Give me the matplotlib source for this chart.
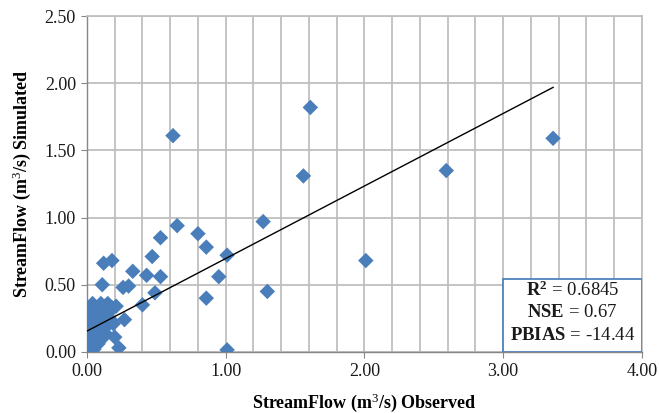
import numpy as np
import matplotlib
matplotlib.use("Agg")
import matplotlib.pyplot as plt
from matplotlib.ticker import MultipleLocator

# observed / simulated streamflow (m3/s)
observed = [3.36, 2.59, 2.01, 1.61, 1.56, 0.62, 1.30, 1.27, 1.01, 1.01,
            0.95, 0.86, 0.86, 0.80, 0.65, 0.53, 0.53, 0.49, 0.47, 0.43,
            0.40, 0.33, 0.30, 0.26, 0.27, 0.23, 0.20, 0.19, 0.21, 0.18,
            0.12, 0.11,
            0.00, 0.01, 0.02, 0.00, 0.03, 0.01, 0.04, 0.02, 0.05, 0.03,
            0.06, 0.02, 0.05, 0.03, 0.07, 0.09, 0.11, 0.13, 0.15, 0.16,
            0.12, 0.09, 0.08, 0.10, 0.07, 0.06, 0.04, 0.08, 0.11, 0.13,
            0.15, 0.17, 0.12, 0.14, 0.01, 0.05, 0.02, 0.06, 0.10, 0.00,
            0.03, 0.07, 0.18, 0.04]
simulated = [1.59, 1.35, 0.68, 1.82, 1.31, 1.61, 0.45, 0.97, 0.72, 0.015,
             0.56, 0.40, 0.78, 0.88, 0.94, 0.85, 0.56, 0.44, 0.71, 0.57,
             0.35, 0.60, 0.49, 0.48, 0.24, 0.03, 0.11, 0.21, 0.34, 0.68,
             0.66, 0.50,
             0.00, 0.02, 0.04, 0.06, 0.08, 0.10, 0.12, 0.15, 0.17, 0.20,
             0.22, 0.25, 0.28, 0.32, 0.30, 0.33, 0.31, 0.34, 0.36, 0.30,
             0.26, 0.24, 0.19, 0.16, 0.13, 0.09, 0.05, 0.06, 0.10, 0.14,
             0.20, 0.24, 0.21, 0.28, 0.01, 0.02, 0.00, 0.33, 0.36, 0.03,
             0.11, 0.27, 0.33, 0.36]

# linear trendline as drawn on the chart
trend_slope = 0.54
trend_intercept = 0.155

stats_labels = ["R^2", "NSE", "PBIAS"]
stats_values = ["0.6845", "0.67", "-14.44"]

plt.rcParams['font.family'] = ['Liberation Serif', 'DejaVu Serif']
plt.rcParams['mathtext.fontset'] = 'custom'
plt.rcParams['mathtext.rm'] = 'Liberation Serif'
plt.rcParams['mathtext.bf'] = 'Liberation Serif:bold'
plt.rcParams['mathtext.it'] = 'Liberation Serif:italic'

fig = plt.figure(figsize=(6.59, 4.13), dpi=100)
ax = fig.add_axes([0.132, 0.148, 0.842, 0.813])

ax.set_xlim(0, 4)
ax.set_ylim(0, 2.5)
ax.xaxis.set_major_locator(MultipleLocator(1.0))
ax.xaxis.set_minor_locator(MultipleLocator(0.2))
ax.yaxis.set_major_locator(MultipleLocator(0.5))
ax.xaxis.set_major_formatter(lambda v, p: f"{v:.2f}")
ax.yaxis.set_major_formatter(lambda v, p: f"{v:.2f}")

ax.grid(which='both', color='#BFBFBF', linewidth=1.3)
ax.set_axisbelow(True)
for side in ['top', 'right']:
    ax.spines[side].set_color('#BFBFBF')
    ax.spines[side].set_linewidth(1.3)
for side in ['left', 'bottom']:
    ax.spines[side].set_color('#868686')
    ax.spines[side].set_linewidth(1.0)

ax.tick_params(which='major', direction='out', length=4, color='#868686',
               labelsize=13, labelcolor='#1a1a1a', pad=4)
ax.tick_params(which='minor', length=0)

ax.scatter(observed, simulated, marker='D', s=62, color='#4A7EBB',
           edgecolors='none', zorder=3)

xs = np.array([0.0, max(observed)])
ax.plot(xs, trend_slope * xs + trend_intercept, color='black',
        linewidth=1.0, zorder=4)

ax.set_xlabel("StreamFlow (m$^3$/s) Observed", fontsize=13, fontweight='bold',
              labelpad=8)
ax.set_ylabel("StreamFlow (m$^3$/s) Simulated", fontsize=13, fontweight='bold',
              labelpad=8)

# statistics box
box = plt.Rectangle((3.0, 0.0), 1.0, 0.545, transform=ax.transData,
                    facecolor='white', edgecolor='#4F81BD', linewidth=1.3,
                    zorder=5)
ax.add_patch(box)
for i, (lab, val) in enumerate(zip(stats_labels, stats_values)):
    y = 0.455 - i * 0.165
    ax.text(3.5, y, r"$\mathbf{" + lab + "}$ = " + val, ha='center',
            va='center', fontsize=13.5, color='#1a1a1a', zorder=6)

fig.savefig("out.png", dpi=100)
